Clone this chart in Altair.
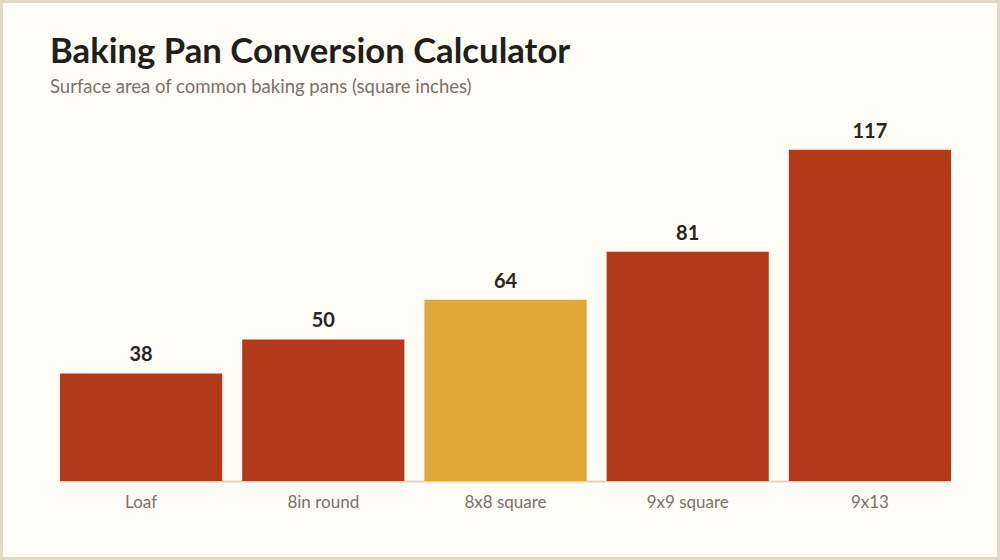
import altair as alt
import pandas as pd

# Pan sizes and their surface areas (square inches)
pans = ["Loaf", "8in round", "8x8 square", "9x9 square", "9x13"]
areas = [38, 50, 64, 81, 117]
highlight = ["no", "no", "yes", "no", "no"]

df = pd.DataFrame({"pan": pans, "area": areas, "highlight": highlight})

RED = "#b23a1a"
GOLD = "#dfa63a"
BG = "#fefcf7"
FRAME = "#e2d9c9"
FONT = "Lato"

W, H = 891, 368

x = alt.X("pan:N", sort=pans, title=None,
          scale=alt.Scale(paddingInner=0.11, paddingOuter=0),
          axis=alt.Axis(labelAngle=0, ticks=False, grid=False,
                        domainColor="#ddd3c3", domainWidth=2,
                        labelColor="#7a7268", labelFont=FONT, labelFontSize=17,
                        labelPadding=13))
y = alt.Y("area:Q", scale=alt.Scale(domain=[0, 130]), axis=None)

bars = alt.Chart(df).mark_bar().encode(
    x=x, y=y,
    color=alt.Color("highlight:N", scale=alt.Scale(domain=["no", "yes"], range=[RED, GOLD]),
                    legend=None),
)

labels = alt.Chart(df).mark_text(
    baseline="alphabetic", dy=-12, font=FONT, fontSize=20, fontWeight="bold", color="#2a2420"
).encode(x=alt.X("pan:N", sort=pans), y="area:Q", text="area:Q")

# Thin frame around the whole canvas
frame = alt.Chart(pd.DataFrame({"k": [0]})).mark_rect(
    fill=None, stroke=FRAME, strokeWidth=3, clip=False
).encode(
    x=alt.value(-58.5), x2=alt.value(W + 47.5),
    y=alt.value(-111.5), y2=alt.value(H + 77.5),
)

# The frame widens the group bounds up to -113, so the title offset is
# measured from there and pulled back down into the top padding.
chart = alt.layer(bars, labels, frame).properties(
    width=W, height=H,
    padding={"left": 60, "right": 49, "top": 113, "bottom": 79},
    autosize=alt.AutoSizeParams(type="none"),
    title=alt.TitleParams(
        "Baking Pan Conversion Calculator",
        subtitle="Surface area of common baking pans (square inches)",
        anchor="start", frame="group", dx=-10, offset=-97,
        font=FONT, fontSize=34.7, fontWeight="bold", color="#221e1a",
        subtitleFont=FONT, subtitleFontSize=18.5, subtitleColor="#7a7268",
        subtitlePadding=7,
    ),
).configure(background=BG).configure_view(stroke=None)

chart.save("out.html", embed_options={"renderer": "svg", "actions": False})
